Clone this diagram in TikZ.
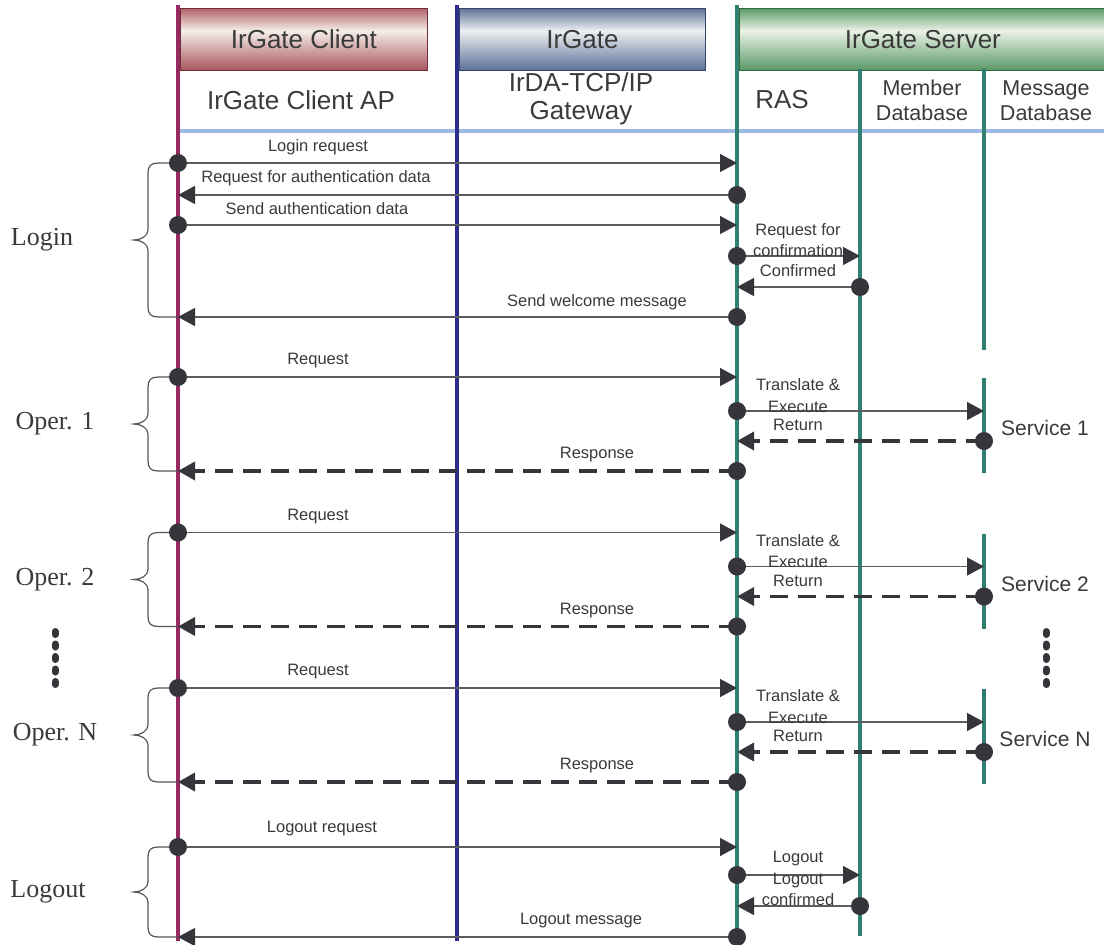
\documentclass[tikz,border=0pt]{standalone}
\usepackage{fontspec}
\setmainfont{Liberation Sans}
\newfontfamily\serifface{Liberation Serif}
\usetikzlibrary{arrows.meta}

% lifeline and ink colours
\definecolor{clientc}{HTML}{982A62}
\definecolor{gatec}{HTML}{2C2E8C}
\definecolor{serverc}{HTML}{2F8070}
\definecolor{hlinec}{HTML}{9DBBE2}
\definecolor{dotc}{HTML}{35353B}
\definecolor{msgc}{HTML}{5C5C5C}
\definecolor{txtc}{HTML}{3A3A3A}
\definecolor{bracec}{HTML}{555555}
% header box shading colours
\definecolor{cliT}{HTML}{B4646C}\definecolor{cliM}{HTML}{F4EEE8}\definecolor{cliB}{HTML}{A9545E}\definecolor{cliD}{HTML}{6E3038}
\definecolor{gwT}{HTML}{5F7499}\definecolor{gwM}{HTML}{EEF0F2}\definecolor{gwB}{HTML}{5A6F96}\definecolor{gwD}{HTML}{34446A}
\definecolor{svT}{HTML}{5E9C6A}\definecolor{svM}{HTML}{EAF2E6}\definecolor{svB}{HTML}{589866}\definecolor{svD}{HTML}{2F6A40}

\pgfdeclareverticalshading{shclient}{100bp}{color(0bp)=(cliB); color(25bp)=(cliB); color(57bp)=(cliM); color(75bp)=(cliT); color(100bp)=(cliT)}
\pgfdeclareverticalshading{shgate}{100bp}{color(0bp)=(gwB); color(25bp)=(gwB); color(57bp)=(gwM); color(75bp)=(gwT); color(100bp)=(gwT)}
\pgfdeclareverticalshading{shserver}{100bp}{color(0bp)=(svB); color(25bp)=(svB); color(57bp)=(svM); color(75bp)=(svT); color(100bp)=(svT)}

\newcommand\hdrfont{\fontsize{26}{28}\selectfont}
\newcommand\dbfont{\fontsize{21.5}{25}\selectfont}
\newcommand\msgfont{\fontsize{16.5}{21.5}\selectfont}
\newcommand\svcfont{\fontsize{21}{24}\selectfont}
\newcommand\phasefont{\serifface\fontsize{26}{28}\selectfont}

\tikzset{
  lifeline/.style={line width=3.5pt},
  hdrbox/.style={draw=#1, line width=0.8pt, anchor=north west, minimum height=62pt,
                 inner sep=0pt, font=\hdrfont, text=txtc},
  role/.style={font=\hdrfont, text=txtc, inner sep=0pt, align=center},
  dbrole/.style={font=\dbfont, text=txtc, inner sep=0pt, align=center},
  lbl/.style={font=\msgfont, text=txtc, inner sep=0pt, align=center},
  svclabel/.style={font=\svcfont, text=txtc, inner sep=0pt},
  phaselbl/.style={font=\phasefont, text=txtc, inner sep=0pt},
  dotnode/.style={circle, fill=dotc, inner sep=0pt, minimum size=18pt},
  msg/.style={draw=msgc, line width=1.3pt, -{Triangle[length=17pt,width=18pt,color=dotc]}},
  reply/.style={draw=dotc, line width=3.5pt, dash pattern=on 18pt off 10pt,
                -{Triangle[length=17pt,width=18pt,color=dotc]}},
  bracepath/.style={draw=bracec, line width=1.2pt},
  ellipsis/.style={draw=dotc, line width=7pt, line cap=round, dash pattern=on 3pt off 9.5pt}
}

% a message arrow with a dot on its sending lifeline
\newcommand\msgline[5]{%
  \coordinate (#1-s) at ({#3},{#5});
  \coordinate (#1-e) at ({#4},{#5});
  \draw[#2] (#1-s) -- (#1-e);
  \node[dotnode] (#1-dot) at (#1-s) {};}

% curly brace grouping a phase on the client lifeline
\newcommand\phasebrace[5]{%
  \pgfmathsetmacro\braceT{#2}%
  \pgfmathsetmacro\braceB{#3}%
  \pgfmathsetmacro\braceM{(\braceT+\braceB)/2}%
  \coordinate (#1-bt) at (178,\braceT);
  \coordinate (#1-bb) at (178,\braceB);
  \draw[bracepath] (#1-bt) -- (158,\braceT)
     .. controls (151,\braceT) and (148,\braceT+3) .. (148,\braceT+10)
     -- (148,\braceM-10)
     .. controls (148,\braceM-4) and (141,\braceM) .. (134,\braceM)
     .. controls (141,\braceM) and (148,\braceM+4) .. (148,\braceM+10)
     -- (148,\braceB-10)
     .. controls (148,\braceB-3) and (151,\braceB) .. (158,\braceB)
     -- (#1-bb);
  \node[phaselbl] (#1-name) at (#5,\braceM) {#4};}

% one request / execute / return / response round trip
\newcommand\operblock[4]{%
  \coordinate (#1-svtop) at (984,{#2+1});
  \coordinate (#1-svbot) at (984,{#2+96});
  \draw[lifeline,serverc] (#1-svtop) -- (#1-svbot);
  \node[svclabel] (#1-svname) at (1045,{#2+51}) {#4};
  \phasebrace{#1}{#2}{#2+94}{#3}{55}
  \msgline{#1-req}{msg}{178}{737}{#2}
  \msgline{#1-exe}{msg}{737}{984}{#2+34}
  \msgline{#1-ret}{reply}{984}{737}{#2+64}
  \msgline{#1-rsp}{reply}{737}{178}{#2+94}
  \node[lbl] (#1-reqlbl) at (318,{#2-16}) {Request};
  \node[lbl] (#1-exelbl) at (798,{#2+18.5}) {Translate \&\\Execute};
  \node[lbl] (#1-retlbl) at (798,{#2+48}) {Return};
  \node[lbl] (#1-rsplbl) at (597,{#2+78}) {Response};}

\begin{document}
\begin{tikzpicture}[x=1pt,y=-1pt]
\useasboundingbox (0,0) rectangle (1104,945);

% header boxes
\node[hdrbox=cliD, shading=shclient, minimum width=247pt] (clientbox) at (180,8) {IrGate Client};
\node[hdrbox=gwD, shading=shgate, minimum width=246pt] (gatebox) at (459,8) {IrGate};
\node[hdrbox=svD, shading=shserver, minimum width=367pt] (serverbox) at (739,8) {IrGate Server};

% role captions
\node[role] (clientap) at (301,100) {IrGate Client AP};
\node[role] (gateway) at (581,99) {IrDA-TCP/IP\\Gateway};
\node[role] (ras) at (782,100) {RAS};
\node[dbrole] (memberdb) at (922,100.5) {Member\\Database};
\node[dbrole] (messagedb) at (1046,100.5) {Message\\Database};

% separator under the captions
\coordinate (sep-l) at (178,131);
\coordinate (sep-r) at (1104,131);
\draw[draw=hlinec, line width=3.5pt] (sep-l) -- (sep-r);

% lifelines
\coordinate (cl-top) at (178,5);   \coordinate (cl-bot) at (178,941);
\coordinate (gw-top) at (457,5);   \coordinate (gw-bot) at (457,941);
\coordinate (ras-top) at (737,5);  \coordinate (ras-bot) at (737,941);
\coordinate (mem-top) at (860,69); \coordinate (mem-bot) at (860,936);
\coordinate (msg-top) at (984,69); \coordinate (msg-bot) at (984,350);
\draw[lifeline, clientc] (cl-top) -- (cl-bot);
\draw[lifeline, gatec] (gw-top) -- (gw-bot);
\draw[lifeline, serverc] (ras-top) -- (ras-bot);
\draw[lifeline, serverc] (mem-top) -- (mem-bot);
\draw[lifeline, serverc] (msg-top) -- (msg-bot);

% login
\phasebrace{login}{163}{317}{Login}{42}
\msgline{lg1}{msg}{178}{737}{163}
\msgline{lg2}{msg}{737}{178}{195}
\msgline{lg3}{msg}{178}{737}{225}
\msgline{lg4}{msg}{737}{860}{256}
\msgline{lg5}{msg}{860}{737}{287}
\msgline{lg6}{msg}{737}{178}{317}
\node[lbl] (lg1-lbl) at (318,147) {Login request};
\node[lbl] (lg2-lbl) at (316,178) {Request for authentication data};
\node[lbl] (lg3-lbl) at (317,209) {Send authentication data};
\node[lbl] (lg4-lbl) at (798,240) {Request for\\confirmation};
\node[lbl] (lg5-lbl) at (798,271) {Confirmed};
\node[lbl] (lg6-lbl) at (597,302) {Send welcome message};

% operations
\operblock{op1}{377}{Oper. 1}{Service 1}
\operblock{op2}{532.5}{Oper. 2}{Service 2}
\operblock{opn}{688}{Oper. N}{Service N}

% elided operations
\coordinate (el-lt) at (55,631.5);  \coordinate (el-lb) at (55,685);
\coordinate (el-rt) at (1046,631.5); \coordinate (el-rb) at (1046,685);
\draw[ellipsis] (el-lt) -- (el-lb);
\draw[ellipsis] (el-rt) -- (el-rb);

% logout
\phasebrace{logout}{847}{937}{Logout}{48}
\msgline{lo1}{msg}{178}{737}{847}
\msgline{lo2}{msg}{737}{860}{875}
\msgline{lo3}{msg}{860}{737}{906}
\msgline{lo4}{msg}{737}{178}{937}
\node[lbl] (lo1-lbl) at (322,829) {Logout request};
\node[lbl] (lo2-lbl) at (798,859) {Logout};
\node[lbl] (lo3-lbl) at (798,889.5) {Logout\\confirmed};
\node[lbl] (lo4-lbl) at (581,921) {Logout message};
\end{tikzpicture}
\end{document}
